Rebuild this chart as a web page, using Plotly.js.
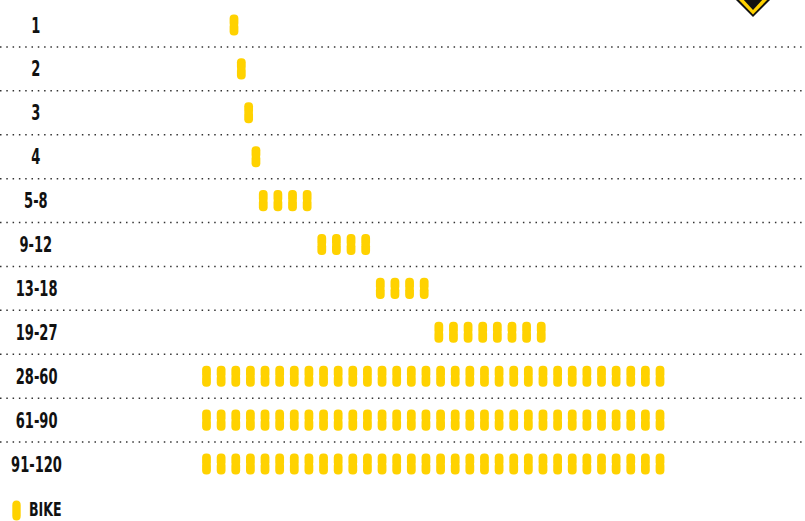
<!DOCTYPE html>
<html><head><meta charset="utf-8">
<script src="https://cdn.plot.ly/plotly-3.0.1.min.js"></script>
<style>html,body{margin:0;padding:0;background:#fff}#chart{width:805px;height:521px}</style>
</head><body><div id="chart"></div>
<script>
// Row categories (top to bottom)
const rowLabels = ['1', '2', '3', '4', '5-8', '9-12', '13-18', '19-27', '28-60', '61-90', '91-120'];
// Slot position of the first pill in each row
const rowStarts = [1.88, 2.38, 2.88, 3.38, 3.88, 7.88, 11.88, 15.88, 0, 0, 0];
// Number of pills in each row
const rowCounts = [1, 1, 1, 1, 4, 4, 4, 8, 32, 32, 32];
const legendName = 'BIKE';

const pillColor = '#FFD200';
const labelFont = {family: 'DejaVu Sans Condensed, DejaVu Sans, sans-serif', size: 22, color: '#111111', weight: 700};

const xs = [], ys = [];
rowLabels.forEach((l, i) => {
  for (let k = 0; k < rowCounts[i]; k++) { xs.push(rowStarts[i] + k); ys.push(i); }
});

const halfH = 0.24, overlap = 0.05, pillW = 0.6;
const common = {type: 'bar', orientation: 'v', width: pillW, hoverinfo: 'skip', showlegend: false,
  marker: {color: pillColor, cornerradius: 4.3, line: {width: 0}}};
const lowerHalf = Object.assign({}, common, {x: xs, base: ys.map(v => v - overlap), y: ys.map(() => halfH + overlap), name: legendName});
const upperHalf = Object.assign({}, common, {x: xs, base: ys.map(v => v + overlap), y: ys.map(() => -(halfH + overlap)), name: legendName});

const shapes = [];
for (let i = 0; i < rowLabels.length - 1; i++) {
  shapes.push({type: 'line', xref: 'paper', x0: 0, x1: 1, yref: 'y', y0: i + 0.5, y1: i + 0.5,
    line: {color: '#333333', width: 1.5, dash: '1.5px,4.8px'}, layer: 'below'});
}
// legend pill
shapes.push({type: 'path', xref: 'paper', xanchor: 0, xsizemode: 'pixel', yref: 'paper', yanchor: 0, ysizemode: 'pixel',
  path: 'M12.3,5 Q12.3,0.5 16.5,0.5 Q20.7,0.5 20.7,5 L20.7,16 Q20.7,20.5 16.5,20.5 Q12.3,20.5 12.3,16 Z',
  fillcolor: pillColor, line: {width: 0}});
// corner badge
shapes.push({type: 'path', xref: 'paper', xanchor: 0, xsizemode: 'pixel', yref: 'paper', yanchor: 1, ysizemode: 'pixel',
  path: 'M734,2 L753,-17 L772,2 Z', fillcolor: '#111111', line: {width: 0}});
shapes.push({type: 'path', xref: 'paper', xanchor: 0, xsizemode: 'pixel', yref: 'paper', yanchor: 1, ysizemode: 'pixel',
  path: 'M737,2 L753,-14.5 L769,2 Z', fillcolor: pillColor, line: {width: 0}});
shapes.push({type: 'path', xref: 'paper', xanchor: 0, xsizemode: 'pixel', yref: 'paper', yanchor: 1, ysizemode: 'pixel',
  path: 'M742,2 L753,-10 L764,2 Z', fillcolor: '#111111', line: {width: 0}});

const annotations = rowLabels.map((l, i) => ({
  text: l, xref: 'paper', x: 36 / 805, yref: 'y', y: i, xanchor: 'center', yanchor: 'middle',
  showarrow: false, font: labelFont
}));
annotations.push({text: legendName, xref: 'paper', x: 27 / 805, yref: 'paper', y: 1 - 509 / 521,
  xanchor: 'left', yanchor: 'middle', showarrow: false, font: Object.assign({}, labelFont, {size: 20})});

const layout = {
  width: 805, height: 521,
  margin: {l: 0, r: 0, t: 0, b: 0, pad: 0},
  paper_bgcolor: '#ffffff', plot_bgcolor: '#ffffff',
  barmode: 'overlay',
  showlegend: false,
  hovermode: false,
  xaxis: {range: [-14.115, 40.91], visible: false, fixedrange: true},
  yaxis: {range: [11.298, -0.5695], visible: false, fixedrange: true},
  shapes: shapes,
  annotations: annotations
};

Plotly.newPlot('chart', [lowerHalf, upperHalf], layout, {staticPlot: true, displayModeBar: false}).then(gd => {
  // emulate the compressed display face of the original
  const texts = gd.querySelectorAll('text.annotation-text');
  texts.forEach((t, idx) => {
    const last = idx === texts.length - 1;
    t.style.transformBox = 'fill-box';
    t.style.transformOrigin = last ? 'left center' : 'center center';
    t.style.transform = last ? 'scaleX(0.7)' : 'scaleX(0.66)';
  });
});
</script>
</body></html>
